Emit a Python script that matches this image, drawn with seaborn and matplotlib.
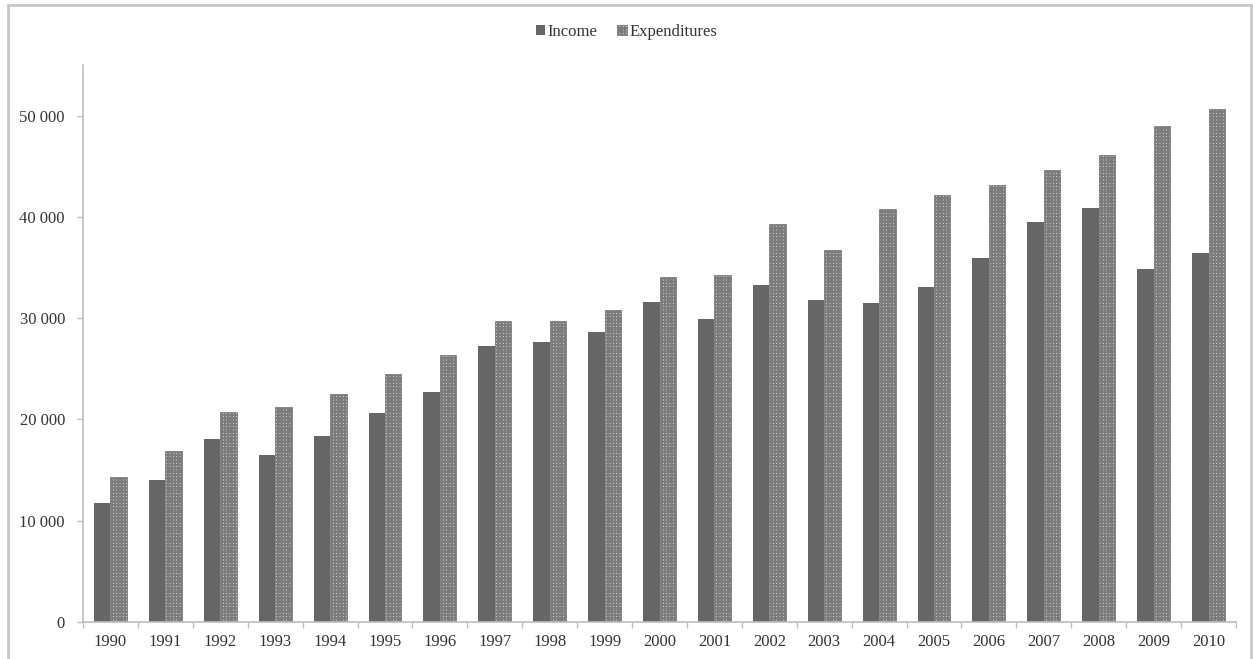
import matplotlib
matplotlib.use("Agg")
import matplotlib.pyplot as plt
from matplotlib.ticker import FuncFormatter, FixedLocator
from matplotlib.lines import Line2D
import seaborn as sns
import pandas as pd

years = [str(y) for y in range(1990, 2011)]
income = [11730, 14030, 18050, 16530, 18380, 20620, 22730, 27270, 27670, 28660,
          31590, 29910, 33270, 31750, 31490, 33030, 35940, 39500, 40910, 34850, 36390]
expenditures = [14300, 16870, 20750, 21210, 22500, 24480, 26320, 29770, 29680, 30830,
                34100, 34290, 39300, 36730, 40780, 42190, 43150, 44600, 46150, 48940, 50660]
series = ["Income", "Expenditures"]

df = pd.DataFrame({
    "year": years * 2,
    "value": income + expenditures,
    "series": [series[0]] * len(years) + [series[1]] * len(years),
})

sns.set_theme(style="white")
plt.rcParams["font.family"] = ["Liberation Serif", "DejaVu Serif"]
plt.rcParams["hatch.linewidth"] = 1.7

text_color = "#333333"
axis_color = "#bdbdbd"

fig = plt.figure(figsize=(12.53, 6.59), dpi=100)
ax = fig.add_axes([83 / 1253, 1 - 622 / 659, (1236 - 83) / 1253, (622 - 65) / 659])

sns.barplot(data=df, x="year", y="value", hue="series", order=years, hue_order=series,
            palette={"Income": "#666666", "Expenditures": "#ffffff"},
            width=0.6, gap=0, ax=ax, legend=False)

# solid dark bars for income, dotted grid texture for expenditures
for p in ax.containers[0]:
    p.set_edgecolor("#666666")
    p.set_linewidth(0)
for p in ax.containers[1]:
    p.set_facecolor("#ffffff")
    p.set_edgecolor("#7c7c7c")
    p.set_hatch("+++++")
    p.set_linewidth(0.6)

ax.set_xlim(-0.5, len(years) - 0.5)
ax.set_ylim(0, 55000)
ax.yaxis.set_major_locator(FixedLocator(range(0, 50001, 10000)))
ax.yaxis.set_major_formatter(FuncFormatter(lambda v, _: f"{int(v):,}".replace(",", " ")))
ax.set_xlabel("")
ax.set_ylabel("")

# tick marks between categories, labels centred under each pair
ax.set_xticks([i - 0.5 for i in range(len(years) + 1)], minor=True)
ax.tick_params(axis="x", which="minor", length=4, width=1, color=axis_color, direction="out", bottom=True)
ax.tick_params(axis="x", which="major", length=0, pad=9, labelsize=12, labelcolor=text_color)
ax.tick_params(axis="y", which="major", length=4, width=1, color=axis_color, direction="out",
               left=True, pad=9, labelsize=12, labelcolor=text_color)

for side in ["top", "right"]:
    ax.spines[side].set_visible(False)
for side in ["left", "bottom"]:
    ax.spines[side].set_color(axis_color)
    ax.spines[side].set_linewidth(1.2)

fig.legend(handles=[ax.containers[0], ax.containers[1]], labels=series,
           loc="center", bbox_to_anchor=(0.5, 1 - 32 / 659), ncol=2, frameon=False,
           fontsize=12, labelcolor=text_color, handlelength=0.55, handleheight=0.55,
           handletextpad=0.15, columnspacing=1.2)

# light outer frame around the figure
W, H = 1253, 659
frame_kw = dict(color="#c8c8c8", linewidth=2, transform=fig.transFigure)
fig.add_artist(Line2D([7.5 / W, 7.5 / W], [0, 1 - 4.5 / H], **frame_kw))
fig.add_artist(Line2D([7.5 / W, 1251 / W], [1 - 4.5 / H, 1 - 4.5 / H], **frame_kw))
fig.add_artist(Line2D([1251 / W, 1251 / W], [0, 1 - 4.5 / H], **frame_kw))

fig.savefig("out.png", dpi=100, facecolor="white")
